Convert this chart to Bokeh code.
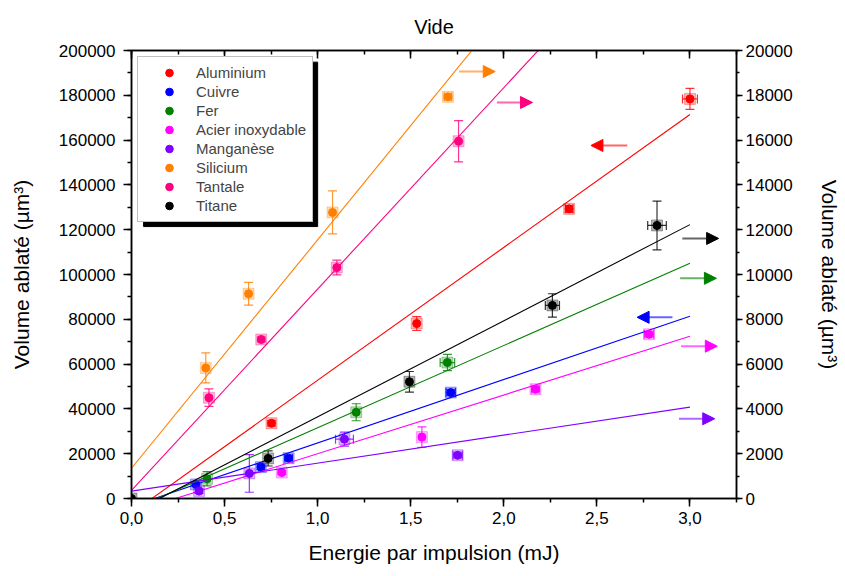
from bokeh.plotting import figure
from bokeh.models import (Range1d, LinearAxis, FixedTicker, Whisker, TeeHead, ColumnDataSource,
                          Legend, LegendItem, Arrow, NormalHead, CustomJSTickFormatter)
from bokeh.embed import file_html
from bokeh.resources import INLINE

# ---------------- data ----------------
title_text = "Vide"
x_ticks = [0.0, 0.5, 1.0, 1.5, 2.0, 2.5, 3.0]
x_tick_labels = ["0,0", "0,5", "1,0", "1,5", "2,0", "2,5", "3,0"]
y_left_ticks = [0, 20000, 40000, 60000, 80000, 100000, 120000, 140000, 160000, 180000, 200000]
y_left_labels = ["0", "20000", "40000", "60000", "80000", "100000", "120000", "140000",
                 "160000", "180000", "200000"]
y_right_ticks = [0, 2000, 4000, 6000, 8000, 10000, 12000, 14000, 16000, 18000, 20000]
y_right_labels = ["0", "2000", "4000", "6000", "8000", "10000", "12000", "14000",
                  "16000", "18000", "20000"]

series_names = ["Aluminium", "Cuivre", "Fer", "Acier inoxydable", "Manganèse",
                "Silicium", "Tantale", "Titane"]
series_axis = ["left", "left", "right", "right", "right", "right", "right", "right"]

al_x = [0.752, 1.532, 2.351, 3.0]
al_y = [33600, 78100, 129300, 178400]
al_ye = [1200, 3100, 1500, 4700]
al_xe = [0.0, 0.0, 0.02, 0.04]

cu_x = [0.346, 0.695, 0.844, 1.715]
cu_y = [6300, 14000, 18000, 47300]
cu_ye = [800, 1000, 1000, 1200]
cu_xe = [0.0, 0.0, 0.02, 0.025]

fe_x = [0.406, 1.207, 1.697]
fe_y = [880, 3850, 6070]
fe_ye = [320, 380, 360]
fe_xe = [0.0, 0.0, 0.039]

ac_x = [0.807, 1.560, 2.170, 2.780]
ac_y = [1160, 2740, 4880, 7330]
ac_ye = [80, 460, 100, 100]
ac_xe = [0.0, 0.0, 0.02, 0.025]

mn_x = [0.363, 0.633, 1.144, 1.752]
mn_y = [330, 1120, 2650, 1930]
mn_ye = [100, 840, 310, 100]
mn_xe = [0.0, 0.0, 0.048, 0.025]

si_x = [0.399, 0.629, 1.080, 1.700]
si_y = [5830, 9140, 12770, 17930]
si_ye = [670, 510, 960, 80]
si_xe = [0.0, 0.0, 0.0, 0.02]

ta_x = [0.416, 0.697, 1.103, 1.757]
ta_y = [4500, 7100, 10310, 15950]
ta_ye = [390, 100, 330, 920]
ta_xe = [0.0, 0.0, 0.0, 0.0]

ti_x = [0.0, 0.734, 1.493, 2.261, 2.823]
ti_y = [0, 1790, 5210, 8620, 12190]
ti_ye = [0, 340, 460, 520, 1090]
ti_xe = [0.0, 0.0, 0.0, 0.038, 0.05]

# linear fits: slope, intercept (in each series' axis units)
fit_slope = [59300, 28300, 3670, 2620, 1250, 10200, 8990, 4290]
fit_intercept = [-6500, -3500, -510, -620, 330, 1350, 360, -643]
fit_x_range = [0.0, 3.0]

# ---------------- styles ----------------
colors = ["#ff0000", "#0000ff", "#008000", "#ff00ff", "#8000ff", "#ff8000", "#ff0080", "#000000"]
FONT = "Liberation Sans"

# arrows (annotation positions, left-axis units): x_start, x_end, y
arrow_pos = [
    (2.663, 2.468, 157600),
    (2.906, 2.716, 80900),
    (2.947, 3.142, 98300),
    (2.952, 3.147, 68000),
    (2.941, 3.133, 35600),
    (1.759, 1.954, 190600),
    (1.963, 2.154, 176800),
    (2.959, 3.154, 116100),
]

W, H = 843, 572
p = figure(width=W, height=H, output_backend="svg", toolbar_location=None,
           x_range=Range1d(0, 3.25), y_range=Range1d(0, 200000),
           min_border_left=131, min_border_right=102, min_border_top=50, min_border_bottom=74)
p.extra_y_ranges = {"right": Range1d(0, 20000)}
p.xgrid.visible = False
p.ygrid.visible = False
p.outline_line_color = "black"
p.outline_line_width = 1.5

p.title.text = title_text
p.title.align = "center"
p.title.text_font = FONT
p.title.text_font_size = "20px"
p.title.text_font_style = "normal"
p.title.text_color = "black"
p.title.standoff = 25


def fmt(tvals, tlabs):
    return CustomJSTickFormatter(args=dict(tvals=tvals, tlabs=tlabs), code="""
        for (let i = 0; i < tvals.length; i++) {
            if (Math.abs(tvals[i] - tick) < 1e-6 * Math.max(1, Math.abs(tick))) return tlabs[i];
        }
        return '';
    """)


def style(ax, tick_out, standoff, label_standoff):
    ax.axis_line_width = 1.5
    ax.major_tick_line_width = 1.5
    ax.minor_tick_line_width = 1.5
    ax.major_tick_out = tick_out
    ax.major_tick_in = 0
    ax.minor_tick_out = tick_out // 2
    ax.minor_tick_in = 0
    ax.major_label_text_font = FONT
    ax.major_label_text_font_size = "17px"
    ax.major_label_text_color = "black"
    ax.major_label_standoff = standoff
    ax.axis_label_text_font = FONT
    ax.axis_label_text_font_size = "21px"
    ax.axis_label_text_font_style = "normal"
    ax.axis_label_text_color = "black"
    ax.axis_label_standoff = label_standoff


xminor = [i * 0.25 for i in range(14)]
xa = p.xaxis[0]
xa.ticker = FixedTicker(ticks=x_ticks, minor_ticks=xminor)
xa.formatter = fmt(x_ticks, x_tick_labels)
xa.axis_label = "Energie par impulsion (mJ)"
style(xa, 8, 5, 14)

ya = p.yaxis[0]
ya.ticker = FixedTicker(ticks=y_left_ticks, minor_ticks=list(range(0, 200001, 10000)))
ya.formatter = fmt(y_left_ticks, y_left_labels)
ya.axis_label = "Volume ablaté (µm³)"
style(ya, 8, 8, 23)

yr = LinearAxis(y_range_name="right")
yr.ticker = FixedTicker(ticks=y_right_ticks, minor_ticks=list(range(0, 20001, 1000)))
yr.formatter = fmt(y_right_ticks, y_right_labels)
yr.axis_label = "Volume ablaté (µm³)"
style(yr, 6, 3, 22)
p.add_layout(yr, "right")

xt = LinearAxis()
xt.ticker = FixedTicker(ticks=x_ticks, minor_ticks=xminor)
xt.formatter = CustomJSTickFormatter(code="return '';")
xt.axis_line_width = 1.5
xt.major_tick_line_width = 1.5
xt.minor_tick_line_width = 1.5
xt.major_tick_in = 8
xt.major_tick_out = 0
xt.minor_tick_in = 4
xt.minor_tick_out = 0
xt.major_label_text_font_size = "1px"
p.add_layout(xt, "above")

# legend shadow (decoration)
p.quad(left=0.065, right=1.0, top=194800, bottom=121400, color="black")

all_x = [al_x, cu_x, fe_x, ac_x, mn_x, si_x, ta_x, ti_x]
all_y = [al_y, cu_y, fe_y, ac_y, mn_y, si_y, ta_y, ti_y]
all_ye = [al_ye, cu_ye, fe_ye, ac_ye, mn_ye, si_ye, ta_ye, ti_ye]
all_xe = [al_xe, cu_xe, fe_xe, ac_xe, mn_xe, si_xe, ta_xe, ti_xe]

legend_items = []
for i, name in enumerate(series_names):
    c = colors[i]
    rn = "default" if series_axis[i] == "left" else "right"
    xs, ys, yes, xes = all_x[i], all_y[i], all_ye[i], all_xe[i]
    # fit line
    fx = fit_x_range
    fy = [fit_slope[i] * v + fit_intercept[i] for v in fx]
    p.line(fx, fy, line_color=c, line_width=1.1, y_range_name=rn)
    # error bars
    src_y = ColumnDataSource(dict(
        x=[a for a, e in zip(xs, yes) if e > 0],
        lo=[b - e for b, e in zip(ys, yes) if e > 0],
        hi=[b + e for b, e in zip(ys, yes) if e > 0]))
    wy = Whisker(source=src_y, base="x", lower="lo", upper="hi", dimension="height",
                 line_color=c, line_width=1.2, line_alpha=0.8, y_range_name=rn,
                 lower_head=TeeHead(size=9, line_color=c, line_width=1.2, line_alpha=0.8),
                 upper_head=TeeHead(size=9, line_color=c, line_width=1.2, line_alpha=0.8))
    p.add_layout(wy)
    if any(e > 0 for e in xes):
        src_x = ColumnDataSource(dict(
            y=[b for b, e in zip(ys, xes) if e > 0],
            lo=[a - e for a, e in zip(xs, xes) if e > 0],
            hi=[a + e for a, e in zip(xs, xes) if e > 0]))
        wx = Whisker(source=src_x, base="y", lower="lo", upper="hi", dimension="width",
                     line_color=c, line_width=1.2, line_alpha=0.8, y_range_name=rn,
                     lower_head=TeeHead(size=9, line_color=c, line_width=1.2, line_alpha=0.8),
                     upper_head=TeeHead(size=9, line_color=c, line_width=1.2, line_alpha=0.8))
        p.add_layout(wx)
    # markers
    p.scatter(xs, ys, marker="square", size=11, fill_color=c, fill_alpha=0.3,
              line_color=c, line_alpha=0.3, y_range_name=rn)
    r = p.scatter(xs, ys, marker="circle", size=8, fill_color=c, line_color=c, y_range_name=rn)
    legend_items.append(LegendItem(label=name, renderers=[r]))
    # arrow indicating the axis
    xs0, xs1, ya0 = arrow_pos[i]
    p.add_layout(Arrow(x_start=xs0, y_start=ya0, x_end=xs1, y_end=ya0,
                       line_color=c, line_width=2, line_alpha=0.6,
                       end=NormalHead(size=12, fill_color=c, line_color=c)))

legend = Legend(items=legend_items, location="top_left", margin=6, padding=6, spacing=0,
                label_height=19, glyph_height=19, glyph_width=50, label_standoff=2,
                label_text_font=FONT, label_text_font_size="15px",
                border_line_color="#808080", border_line_width=1,
                background_fill_color="white", background_fill_alpha=1.0)
p.add_layout(legend)

open("out.html", "w").write(file_html(p, INLINE))
